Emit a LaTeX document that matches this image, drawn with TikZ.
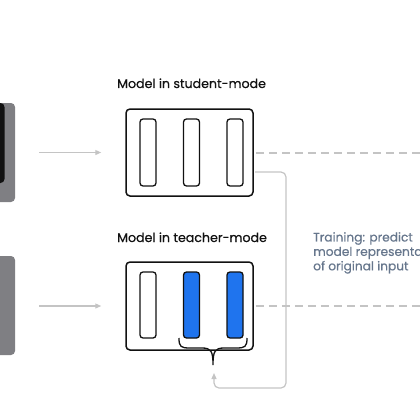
\documentclass[tikz,border=0pt]{standalone}
\usepackage{fontspec}
\setmainfont{Poppins}
\newfontfamily\medfont{Poppins}[FakeBold=0.6]
\usetikzlibrary{arrows.meta,calc}
\definecolor{mblue}{HTML}{1F74EE}
\definecolor{lgray}{HTML}{C4C4C4}
\definecolor{dgray}{HTML}{7F7F83}
\definecolor{tgray}{HTML}{66768C}
\definecolor{nblack}{HTML}{111111}
\tikzset{
  model/.style={draw=nblack, line width=1.5pt, rounded corners=4pt, minimum width=127pt, minimum height=87pt, inner sep=0pt},
  bar/.style={draw=nblack, line width=1.3pt, rounded corners=3pt, minimum width=16pt, minimum height=67pt, inner sep=0pt, fill=white},
  bluebar/.style={bar, fill=mblue},
  flow/.style={draw=lgray, line width=1.2pt, -{Triangle[length=6pt,width=5pt]}},
  dashline/.style={draw=lgray, line width=1.2pt, dash pattern=on 8pt off 5pt},
  lbl/.style={font=\medfont\fontsize{12.6pt}{14pt}\selectfont, text=nblack, inner sep=0pt, anchor=base west},
}
\begin{document}
\begin{tikzpicture}[x=1pt,y=-1pt]
\useasboundingbox (0,0) rectangle (420,420);
\begin{scope}
\clip (0,0) rectangle (420,420);
% left input boxes
\fill[dgray, rounded corners=4pt] (-10,103) rectangle (15,202);
\fill[nblack, rounded corners=4pt] (-10,103) rectangle (4.5,183);
\fill[dgray, rounded corners=4pt] (-10,256) rectangle (15,355);
\node[inner sep=0pt, minimum size=0pt] (inA) at (15,152.5) {};
\node[inner sep=0pt, minimum size=0pt] (inB) at (15,306) {};

% models
\node[model] (student) at (189.5,152.5) {};
\node[model, minimum height=88pt] (teacher) at (189.5,306) {};
\node[lbl] (slabel) at (117,88) {Model in student-mode};
\node[lbl] (tlabel) at (117,242) {Model in teacher-mode};

\node[bar] (s1) at (148,152.5) {};
\node[bar] (s2) at (191.5,152.5) {};
\node[bar] (s3) at (235,152.5) {};
\node[bar, minimum height=66pt] (t1) at (148,305) {};
\node[bluebar, minimum height=66pt] (t2) at (191.5,305) {};
\node[bluebar, minimum height=66pt] (t3) at (235,305) {};

% input arrows
\draw[flow] ($(inA)+(24,0)$) -- ($(student.west)+(-24,0)$);
\draw[flow] ($(inB)+(24,0)$) -- ($(teacher.west)+(-24,0)$);

% dashed outputs
\coordinate (eA) at (425,153);
\coordinate (eB) at (425,306);
\draw[dashline] ($(student.east)+(2,0.5)$) -- (eA);
\draw[dashline] ($(teacher.east)+(2,0)$) -- (eB);

% brace
\coordinate (btip) at (213,365);
\draw[nblack, line width=1.3pt]
  (179,338) .. controls (179,347) and (181,348) .. (190,348) -- (202,348)
  .. controls (211,348) and (213,351) .. (btip)
  .. controls (213,351) and (215,348) .. (224,348) -- (236,348)
  .. controls (245,348) and (247,347) .. (247,338);

% feedback connector
\coordinate (fb) at (255,172);
\draw[flow, rounded corners=5pt] (fb) -- (286,172) -- (286,388) -- (214,388) -- ($(btip)+(1,8)$);

% training text
\node[font=\medfont\fontsize{12.2pt}{14.4pt}\selectfont, text=tgray, align=left, anchor=north west, inner sep=0pt] (train) at (313,232)
  {Training: predict\\model representations\\of original input};
\end{scope}
\end{tikzpicture}
\end{document}
